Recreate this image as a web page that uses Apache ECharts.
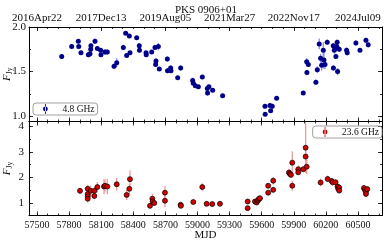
<!DOCTYPE html>
<html><head><meta charset="utf-8">
<script src="https://cdn.jsdelivr.net/npm/echarts@6/dist/echarts.min.js"></script>
<style>html,body{margin:0;padding:0;background:#fff}#c{width:389px;height:243px}</style>
</head><body><div id="c"></div>
<script>
// ---- data: 4.8 GHz ----
const mjd48 = [57731,57824,57886,57890,57911,57980,57995,58002,58004,58042,58064,58095,58098,58136,58157,58220,58245,58307,58329,58338,58363,58369,58432,58456,58458,58519,58521,58572,58603,58609,58612,58634,58643,58718,58720,58749,58752,58815,58843,58955,58961,58980,59008,59045,59092,59094,59107,59142,59235,59631,59633,59678,59684,59699,59740,59989,60021,60023,60036,60107,60120,60138,60151,60161,60176,60182,60192,60213,60269,60271,60279,60285,60294,60301,60306,60310,60325,60394,60400,60481,60519,60575,60596];
const flux48 = [1.67,1.78,1.84,1.78,1.71,1.69,1.70,1.75,1.79,1.84,1.76,1.74,1.69,1.72,1.72,1.56,1.60,1.77,1.93,1.68,1.90,1.71,1.88,1.79,1.74,1.71,1.69,1.72,1.77,1.58,1.62,1.78,1.53,1.64,1.51,1.54,1.51,1.43,1.54,1.40,1.37,1.34,1.33,1.44,1.31,1.26,1.33,1.29,1.23,1.11,1.02,1.12,1.06,1.11,1.20,1.26,1.61,1.49,1.58,1.38,1.52,1.81,1.65,1.57,1.74,1.63,1.58,1.83,1.79,1.54,1.74,1.76,1.67,1.78,1.83,1.50,1.75,1.74,1.71,1.82,1.74,1.85,1.80];
const err48 = [0.03,0.02,0.025,0.02,0.02,0.03,0.03,0.03,0.03,0.03,0.02,0.02,0.02,0.03,0.03,0.03,0.05,0.03,0.02,0.02,0.02,0.02,0.02,0.03,0.03,0.02,0.02,0.02,0.03,0.02,0.03,0.04,0.02,0.03,0.03,0.03,0.02,0.02,0.03,0.03,0.02,0.02,0.02,0.02,0.04,0.03,0.02,0.02,0.02,0.02,0.02,0.02,0.02,0.03,0.02,0.02,0.04,0.03,0.03,0.03,0.04,0.06,0.05,0.06,0.09,0.10,0.05,0.03,0.03,0.03,0.04,0.03,0.03,0.03,0.03,0.04,0.03,0.03,0.03,0.03,0.02,0.03,0.03];
// ---- data: 23.6 GHz ----
const mjd236 = [57902,57974,57974,57974,57974,58002,58036,58036,58064,58126,58136,58157,58245,58338,58363,58369,58556,58578,58581,58596,58696,58696,58843,58845,58961,59045,59086,59138,59210,59469,59469,59537,59553,59563,59568,59577,59584,59661,59661,59708,59708,59855,59864,59874,59886,59886,59942,59942,59989,60011,60011,60021,60151,60217,60254,60263,60291,60310,60316,60325,60325,60556,60565,60575,60575,60588];
const flux236 = [1.47,1.55,1.35,1.25,1.16,1.47,1.47,1.27,1.62,1.64,1.67,1.64,1.73,1.31,1.55,1.93,0.88,1.16,1.05,0.99,1.40,1.08,0.92,0.88,1.03,1.62,0.96,0.95,0.96,1.05,0.79,1.05,1.01,1.08,1.12,1.16,1.18,1.67,1.40,1.87,1.51,2.19,2.14,2.10,2.58,1.67,2.32,2.20,2.32,3.17,2.82,2.42,1.80,1.94,1.86,1.81,1.81,1.64,1.55,1.60,1.48,1.58,1.51,1.44,1.35,1.54];
const err236 = [0.12,0.15,0.15,0.15,0.15,0.2,0.15,0.12,0.2,0.3,0.25,0.3,0.25,0.2,0.2,0.35,0.08,0.2,0.15,0.1,0.25,0.25,0.08,0.08,0.06,0.15,0.05,0.05,0.05,0.08,0.08,0.05,0.05,0.05,0.05,0.05,0.05,0.1,0.1,0.15,0.1,0.15,0.15,0.12,0.45,0.2,0.15,0.1,0.1,1.0,0.3,0.3,0.15,0.12,0.12,0.15,0.1,0.1,0.1,0.1,0.1,0.12,0.12,0.12,0.12,0.1];
// ---- tick labels ----
const mjdTicks = [57500,57800,58100,58400,58700,59000,59300,59600,59900,60200,60500];
const dateTickValues = [57500,58100,58700,59300,59900,60500];
const dateTickLabels = ['2016Apr22','2017Dec13','2019Aug05','2021Mar27','2022Nov17','2024Jul09'];
const yTicksTop = [1.0,1.5,2.0];
const yTicksBottom = [1,2,3,4];

const title = 'PKS 0906+01';
const legend48 = '4.8 GHz', legend236 = '23.6 GHz';

const FONT = 'Liberation Serif';
const XMIN = 57425, XMAX = 60725;
function range(a,b,s){const r=[];for(let v=a;v<=b+1e-9;v+=s)r.push(+v.toFixed(4));return r;}
const xMinor = range(57500,60700,100);
const yMinorTop = range(1.0,2.0,0.25);
const yMinorBot = range(0.5,4.0,0.5);

function xAx(grid,pos,ticks,len,labelOpts){
  return {type:'value',gridIndex:grid,position:pos,min:XMIN,max:XMAX,
    axisLine:{show:!!labelOpts.line,lineStyle:{color:'#000',width:1}},
    splitLine:{show:false},
    axisTick:{show:true,inside:true,length:len,customValues:ticks,lineStyle:{color:'#000',width:0.8}},
    axisLabel:labelOpts.label||{show:false},
    name:labelOpts.name||'',nameLocation:'middle',nameGap:labelOpts.nameGap||0,nameMoveOverlap:false,
    nameTextStyle:{fontFamily:FONT,fontSize:11,color:'#111'}};
}
function yAx(grid,pos,min,max,ticks,len,o){
  return {type:'value',gridIndex:grid,position:pos,min:min,max:max,
    axisLine:{show:!!o.line,lineStyle:{color:'#000',width:1}},
    splitLine:{show:false},
    axisTick:{show:true,inside:true,length:len,customValues:ticks,lineStyle:{color:'#000',width:0.8}},
    axisLabel:o.label||{show:false},
    name:o.name||'',nameLocation:'middle',nameGap:o.nameGap||0,nameRotate:90,nameMoveOverlap:false,
    nameTextStyle:{fontFamily:FONT,fontSize:11,color:'#111',
      rich:{i:{fontFamily:FONT,fontStyle:'italic',fontSize:11,color:'#111'},
            s:{fontFamily:FONT,fontSize:7.5,color:'#111',padding:[6,0,0,0]}}}};
}
const dateMap = {}; dateTickValues.forEach((v,i)=>dateMap[v]=dateTickLabels[i]);

const xAxes = [
  xAx(0,'bottom',mjdTicks,4,{line:true}),
  xAx(0,'bottom',xMinor,2,{}),
  xAx(0,'top',dateTickValues,4,{line:true,label:{show:true,customValues:dateTickValues,formatter:v=>dateMap[v]||'',fontFamily:FONT,fontSize:11,color:'#111',margin:3}}),
  xAx(0,'top',xMinor,2,{}),
  xAx(1,'bottom',mjdTicks,4,{line:true,label:{show:true,customValues:mjdTicks,formatter:v=>String(v),fontFamily:FONT,fontSize:10,color:'#111',margin:5},name:'MJD',nameGap:14}),
  xAx(1,'bottom',xMinor,2,{}),
  xAx(1,'top',mjdTicks,4,{line:true}),
  xAx(1,'top',xMinor,2,{})
];
const yAxes = [
  yAx(0,'left',0.94,2.0,yTicksTop,4,{line:true,label:{show:true,customValues:yTicksTop,formatter:v=>v.toFixed(1),fontFamily:FONT,fontSize:11,color:'#111',margin:3},name:'{i|F}{s|Jy}',nameGap:15}),
  yAx(0,'left',0.94,2.0,yMinorTop,2,{}),
  yAx(0,'right',0.94,2.0,yTicksTop,4,{line:true}),
  yAx(0,'right',0.94,2.0,yMinorTop,2,{}),
  yAx(1,'left',0.5,4.2,yTicksBottom,4,{line:true,label:{show:true,customValues:yTicksBottom,formatter:v=>String(v),fontFamily:FONT,fontSize:11,color:'#111',margin:5},name:'{i|F}{s|Jy}',nameGap:15}),
  yAx(1,'left',0.5,4.2,yMinorBot,2,{}),
  yAx(1,'right',0.5,4.2,yTicksBottom,4,{line:true}),
  yAx(1,'right',0.5,4.2,yMinorBot,2,{})
];

function errSeries(xi,yi,mjd,f,e,color){
  return {type:'custom',xAxisIndex:xi,yAxisIndex:yi,z:1,silent:true,clip:true,
    data:mjd.map((m,i)=>[m,f[i]-e[i],f[i]+e[i]]),
    renderItem:(p,api)=>{const a=api.coord([api.value(0),api.value(1)]),b=api.coord([api.value(0),api.value(2)]);
      return {type:'line',shape:{x1:a[0],y1:a[1],x2:b[0],y2:b[1]},style:{stroke:color,lineWidth:1.3}};}};
}
const icon = 'path://M4.6,0 L5.4,0 L5.4,10 L4.6,10 Z M5,2.6 A2.4,2.4 0 1,0 5,7.4 A2.4,2.4 0 1,0 5,2.6 Z';

const option = {
  animation:false,
  backgroundColor:'#fff',
  title:{text:title,left:201,top:0,textAlign:'center',textStyle:{fontFamily:FONT,fontSize:11,fontWeight:'normal',color:'#111'}},
  grid:[{left:29,right:7,top:27,height:94.5,outerBoundsMode:'none',containLabel:false},
        {left:29,right:7,top:121.5,bottom:27.5,outerBoundsMode:'none',containLabel:false}],
  xAxis:xAxes,
  yAxis:yAxes,
  legend:[
    {data:[{name:legend48,itemStyle:{color:'#00008b',borderWidth:0}}],left:33,top:103,icon:icon,itemWidth:6,itemHeight:10,
     padding:[1,3,1,10],borderColor:'#888',borderWidth:0.8,borderRadius:3,
     textStyle:{fontFamily:FONT,fontSize:9.5,color:'#111',padding:[0,0,0,9]}},
    {data:[{name:legend236,itemStyle:{color:'#c00000',borderWidth:0}}],right:7,top:126,icon:icon,itemWidth:6,itemHeight:10,
     padding:[1,3,1,10],borderColor:'#888',borderWidth:0.8,borderRadius:3,
     textStyle:{fontFamily:FONT,fontSize:9.5,color:'#111',padding:[0,0,0,9]}}
  ],
  series:[
    errSeries(0,0,mjd48,flux48,err48,'#8c8cf0'),
    {name:legend48,type:'scatter',xAxisIndex:0,yAxisIndex:0,z:3,symbol:'circle',symbolSize:5,
     itemStyle:{color:'#00008b',opacity:1},data:mjd48.map((m,i)=>[m,flux48[i]])},
    errSeries(4,4,mjd236,flux236,err236,'#f29a9a'),
    {name:legend236,type:'scatter',xAxisIndex:4,yAxisIndex:4,z:3,symbol:'circle',symbolSize:5,
     itemStyle:{color:'#d40000',borderColor:'#000',borderWidth:0.7,opacity:1},data:mjd236.map((m,i)=>[m,flux236[i]])}
  ]
};
const chart = echarts.init(document.getElementById('c'),null,{renderer:'canvas'});
chart.setOption(option);
</script></body></html>
